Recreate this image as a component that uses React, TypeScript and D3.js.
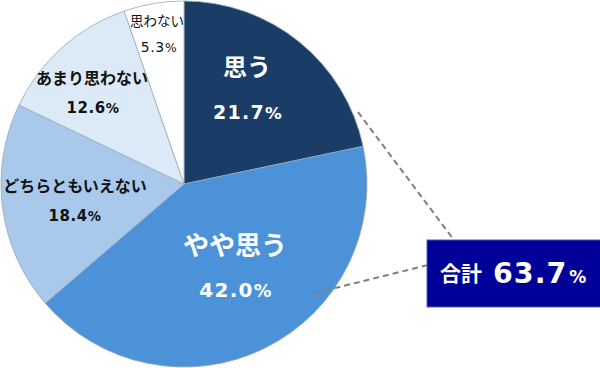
import React, { useEffect, useRef } from 'react';
import * as d3 from 'd3';

// 回答区分と割合
const categories = ['思う', 'やや思う', 'どちらともいえない', 'あまり思わない', '思わない'];
const values = [21.7, 42.0, 18.4, 12.6, 5.3];
const colors = ['#193d66', '#4b92d8', '#a8c9ec', '#dce9f7', '#ffffff'];
const textColors = ['#ffffff', '#ffffff', '#111111', '#111111', '#111111'];
const totalLabel = '合計';
const totalValue = '63.7';

const JP = "'Noto Sans CJK JP', 'Noto Sans', sans-serif";
const NUM = "'DejaVu Sans', Verdana, sans-serif";

const App: React.FC = () => {
  const svgRef = useRef<SVGSVGElement>(null);
  const width = 600;
  const height = 368;

  useEffect(() => {
    if (!svgRef.current) return;
    const svg = d3.select(svgRef.current);
    svg.selectAll('*').remove();

    const cx = 184;
    const cy = 184;
    const r = 183;

    const pie = d3.pie<number>().sort(null).value(d => d);
    const arcs = pie(values);
    const arc = d3.arc<d3.PieArcDatum<number>>().innerRadius(0).outerRadius(r);

    const g = svg.append('g').attr('transform', `translate(${cx},${cy})`);

    g.selectAll('path')
      .data(arcs)
      .enter()
      .append('path')
      .attr('d', arc)
      .attr('fill', (_, i) => colors[i])
      .attr('stroke', '#9aa7b4')
      .attr('stroke-width', 0.8);

    // label placement (offsets from centre), sizes
    const layout = [
      { x: 63, px: 64, ny: -119, py: -72, ns: 24, ps: 19, w: 700, ls: 1.3 },
      { x: 51, px: 52, ny: 59, py: 106, ns: 26, ps: 20, w: 700, ls: 1.3 },
      { x: -109, px: -109, ny: 1, py: 32, ns: 16, ps: 15, w: 700, ls: 0.6 },
      { x: -92, px: -91, ny: -107, py: -76, ns: 16, ps: 15, w: 700, ls: 0.6 },
      { x: -27, px: -25, ny: -164, py: -137, ns: 13.5, ps: 14, w: 400, ls: 0.6 },
    ];

    layout.forEach((l, i) => {
      g.append('text')
        .attr('x', l.x)
        .attr('y', l.ny)
        .attr('text-anchor', 'middle')
        .attr('dominant-baseline', 'central')
        .attr('font-family', JP)
        .attr('font-size', l.ns)
        .attr('font-weight', l.w)
        .attr('fill', textColors[i])
        .text(categories[i]);
      const t = g.append('text')
        .attr('x', l.px)
        .attr('y', l.py + l.ps * 0.36)
        .attr('text-anchor', 'middle')
        .attr('font-family', NUM)
        .attr('font-size', l.ps)
        .attr('font-weight', l.w)
        .attr('letter-spacing', l.ls)
        .attr('fill', textColors[i]);
      t.append('tspan').text(values[i].toFixed(1));
      t.append('tspan').attr('font-size', l.ps * 0.88).text('%');
    });

    // callout lines to total box
    const dash = '6,4';
    svg.append('line')
      .attr('x1', 358).attr('y1', 112)
      .attr('x2', 454).attr('y2', 240)
      .attr('stroke', '#7f7f7f').attr('stroke-width', 2).attr('stroke-dasharray', dash);
    svg.append('line')
      .attr('x1', 315).attr('y1', 293)
      .attr('x2', 428).attr('y2', 265)
      .attr('stroke', '#7f7f7f').attr('stroke-width', 2).attr('stroke-dasharray', dash);

    svg.append('rect')
      .attr('x', 427).attr('y', 240)
      .attr('width', 180).attr('height', 67)
      .attr('fill', '#000099')
      .attr('stroke', '#4a5fc0')
      .attr('stroke-width', 1);

    svg.append('text')
      .attr('x', 440)
      .attr('y', 281)
      .attr('font-family', JP)
      .attr('font-weight', 700)
      .attr('font-size', 21)
      .attr('fill', '#ffffff')
      .text(totalLabel);
    const tt = svg.append('text')
      .attr('x', 493)
      .attr('y', 283)
      .attr('font-family', NUM)
      .attr('font-weight', 700)
      .attr('fill', '#ffffff');
    tt.append('tspan').attr('font-size', 28.5).attr('letter-spacing', 1).text(totalValue);
    tt.append('tspan').attr('font-size', 17).attr('dx', 2).text('%');
  }, []);

  return (
    <svg
      ref={svgRef}
      width={width}
      height={height}
      style={{ position: 'absolute', left: 0, top: 0, background: '#fff' }}
    />
  );
};

export default App;
